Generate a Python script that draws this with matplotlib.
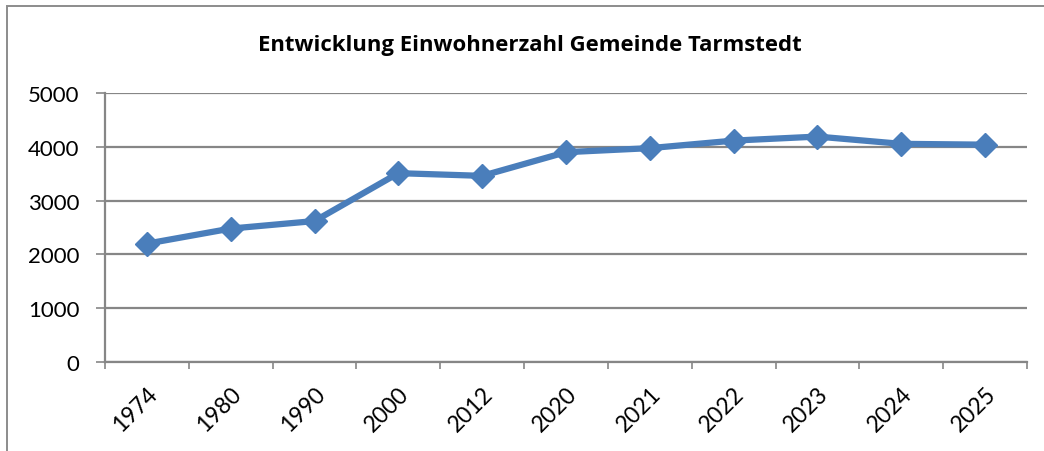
import matplotlib
matplotlib.use("Agg")
import matplotlib.pyplot as plt
from matplotlib.patches import Rectangle

years = ["1974", "1980", "1990", "2000", "2012", "2020", "2021", "2022", "2023", "2024", "2025"]
population = [2200, 2480, 2620, 3510, 3460, 3900, 3975, 4115, 4190, 4055, 4040]
yticks = [0, 1000, 2000, 3000, 4000, 5000]
title = "Entwicklung Einwohnerzahl Gemeinde Tarmstedt"

plt.rcParams['font.family'] = ['Lato', 'DejaVu Sans']

W, H = 1044, 452
fig = plt.figure(figsize=(W/100, H/100), dpi=100)
fig.patch.set_facecolor('white')

# outer chart border (cut off at right/bottom)
fig.patches.append(Rectangle((7/W, -0.1), 1.2, 1 - 7/H + 0.1, transform=fig.transFigure,
                             fill=False, edgecolor='#8c8c8c', linewidth=1.4))

ax = fig.add_axes([105/W, 1 - 363/H, (1027-105)/W, (363-94)/H])
x = list(range(len(years)))
ax.plot(x, population, color='#4A7EBB', linewidth=4.5, marker='D', markersize=12,
        markerfacecolor='#4A7EBB', markeredgecolor='#4A7EBB', solid_joinstyle='round', zorder=3)

ax.set_xlim(-0.5, len(years) - 0.5)
ax.set_ylim(0, 5000)
ax.set_yticks(yticks)
ax.set_yticklabels([str(v) for v in yticks], fontsize=16)
ax.yaxis.grid(True, color='#868686', linewidth=1.6)
ax.set_axisbelow(True)

ax.set_xticks([i - 0.5 for i in range(len(years) + 1)])
ax.set_xticklabels([])
ax.set_xticks(x, minor=True)
ax.set_xticklabels(years, minor=True, fontsize=16.5, rotation=45, ha='right', va='top',
                   rotation_mode='anchor')
ax.tick_params(axis='x', which='minor', length=0, pad=15)
ax.tick_params(axis='x', which='major', length=5, color='#868686', width=1.2, direction='out')
ax.tick_params(axis='y', length=6.5, color='#868686', width=1.2, pad=12)

for s in ['top', 'right']:
    ax.spines[s].set_visible(False)
for s in ['left', 'bottom']:
    ax.spines[s].set_color('#868686')
    ax.spines[s].set_linewidth(1.6)

fig.text(530/W, 1 - 45/H, title, ha='center', va='center', fontsize=15.9,
         fontweight='bold', family=['Open Sans', 'DejaVu Sans'])

fig.savefig('out.png', dpi=100)
